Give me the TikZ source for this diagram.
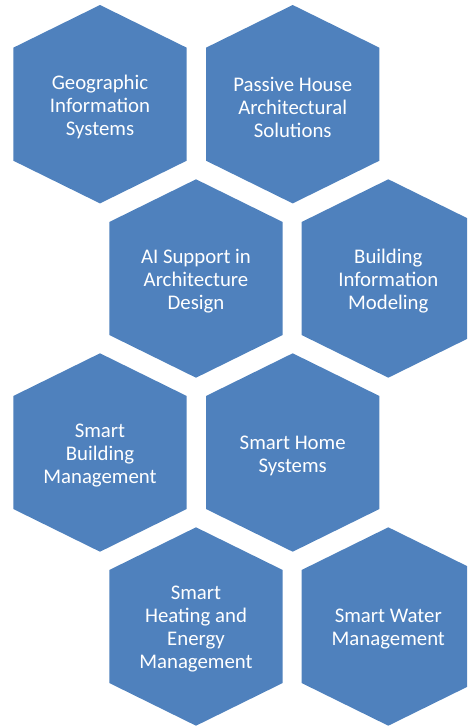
\documentclass[tikz,border=0pt]{standalone}
\usepackage{fontspec}
\setmainfont{Carlito}
\definecolor{hexblue}{HTML}{4F81BD}
\tikzset{
  hexfill/.style={fill=hexblue, draw=none},
  hexlabel/.style={text=white, align=center, inner sep=0pt, yshift=-3pt,
    font=\fontsize{20.8}{23}\selectfont}
}
% a pointy-top hexagon centred at (#1,#2), with its label node #3
\newcommand\hexcell[4]{%
  \fill[hexfill] (#1,#2) ++(0,-99.2) -- ++(86.7,42.7) -- ++(0,113) -- ++(-86.7,42.7)
     -- ++(-86.7,-42.7) -- ++(0,-113) -- cycle;
  \node[hexlabel] (#3) at (#1,#2) {#4};}
\begin{document}
\begin{tikzpicture}[x=1pt,y=-1pt]
  \useasboundingbox (0,0) rectangle (467,728);
  \clip (0,0) rectangle (467,728);
  \hexcell{100}{104.2}{gis}{Geographic\\Information\\Systems}
  \hexcell{292.7}{104.2}{passive}{Passive House\\Architectural\\Solutions}
  \hexcell{196}{278.5}{ai}{AI Support in\\Architecture\\Design}
  \hexcell{388.3}{278.5}{bim}{Building\\Information\\Modeling}
  \hexcell{100}{452.5}{sbm}{Smart\\Building\\Management}
  \hexcell{292.7}{452.5}{home}{Smart Home\\Systems}
  \hexcell{196}{626.5}{heat}{Smart\\Heating and\\Energy\\Management}
  \hexcell{388.3}{626.5}{water}{Smart Water\\Management}
\end{tikzpicture}
\end{document}
